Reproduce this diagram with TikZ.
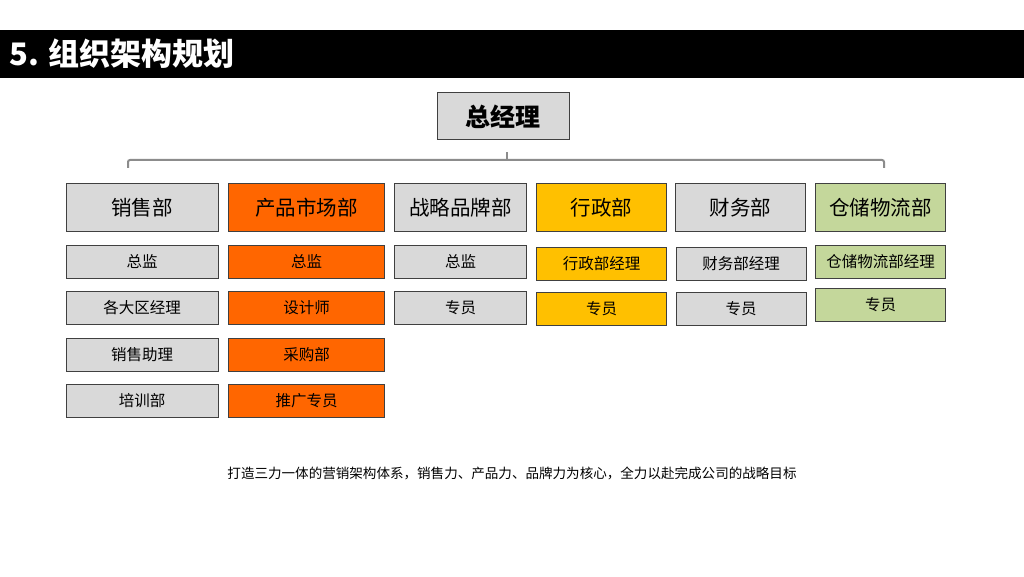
\documentclass[tikz,border=0pt]{standalone}
\usepackage{fontspec}
\setmainfont{Noto Sans CJK SC}
\definecolor{cgray}{HTML}{D9D9D9}
\definecolor{corange}{HTML}{FF6600}
\definecolor{cyellow}{HTML}{FFC000}
\definecolor{cgreen}{HTML}{C4D79B}
\definecolor{cborder}{HTML}{404040}
\definecolor{cline}{HTML}{8C8C8C}
\tikzset{
  cell/.style={draw=cborder, line width=1pt, inner sep=0pt, text=black},
  head/.style={cell, minimum height=48pt, font=\fontsize{20.5}{24}\selectfont},
  sub/.style={cell, minimum height=33pt, font=\fontsize{15.5}{18}\selectfont},
  gcell/.style={fill=cgray},
  ocell/.style={fill=corange},
  ycell/.style={fill=cyellow},
  ncell/.style={fill=cgreen},
  bracket/.style={draw=cline, line width=2pt, rounded corners=2pt}
}
\begin{document}
\begin{tikzpicture}[x=1pt,y=-1pt]
\useasboundingbox (0,0) rectangle (1024,577);
\fill[white] (0,0) rectangle (1024,577);
% title bar
\fill[black] (0,30) rectangle (1024,78);
\node[anchor=west, inner sep=0pt, text=white, font=\bfseries\fontsize{31}{34}\selectfont] (title) at (9.5,54) {5. 组织架构规划};
% top
\node[cell, gcell, minimum width=132pt, minimum height=47pt, font=\bfseries\fontsize{25}{28}\selectfont] (boss) at (503,116.5) {总经理};
% bracket
\coordinate (bl) at (128,168);
\coordinate (br) at (884,168);
\coordinate (bt) at (507,152);
\coordinate (bm) at (507,160);
\draw[bracket] (bl) -- (128,160) -- (884,160) -- (br);
\draw[bracket] (bm) -- (bt);
% row 1 headers
\node[head, gcell, minimum width=152pt] (h1) at (142,208) {销售部};
\node[head, ocell, minimum width=156pt] (h2) at (306.5,208) {产品市场部};
\node[head, gcell, minimum width=132pt] (h3) at (460.5,208) {战略品牌部};
\node[head, ycell, minimum width=130pt] (h4) at (601.5,208) {行政部};
\node[head, gcell, minimum width=130pt] (h5) at (740.5,208) {财务部};
\node[head, ncell, minimum width=130pt] (h6) at (880.5,208) {仓储物流部};
% column 1
\node[sub, gcell, minimum width=152pt] (a2) at (142,261.5) {总监};
\node[sub, gcell, minimum width=152pt] (a3) at (142,307.5) {各大区经理};
\node[sub, gcell, minimum width=152pt] (a4) at (142,354.5) {销售助理};
\node[sub, gcell, minimum width=152pt] (a5) at (142,400.5) {培训部};
% column 2
\node[sub, ocell, minimum width=156pt] (b2) at (306.5,261.5) {总监};
\node[sub, ocell, minimum width=156pt] (b3) at (306.5,307.5) {设计师};
\node[sub, ocell, minimum width=156pt] (b4) at (306.5,354.5) {采购部};
\node[sub, ocell, minimum width=156pt] (b5) at (306.5,400.5) {推广专员};
% column 3
\node[sub, gcell, minimum width=132pt] (c2) at (460.5,261.5) {总监};
\node[sub, gcell, minimum width=132pt] (c3) at (460.5,307.5) {专员};
% column 4
\node[sub, ycell, minimum width=130pt] (d2) at (601.5,263.5) {行政部经理};
\node[sub, ycell, minimum width=130pt] (d3) at (601.5,308.5) {专员};
% column 5
\node[sub, gcell, minimum width=130pt] (e2) at (741,263.5) {财务部经理};
\node[sub, gcell, minimum width=130pt] (e3) at (741,308.5) {专员};
% column 6
\node[sub, ncell, minimum width=130pt] (f2) at (880.5,261.5) {仓储物流部经理};
\node[sub, ncell, minimum width=130pt] (f3) at (880.5,305) {专员};
% footer
\node[inner sep=0pt, font=\fontsize{13.55}{16}\selectfont] (foot) at (512,473) {打造三力一体的营销架构体系，销售力、产品力、品牌力为核心，全力以赴完成公司的战略目标};
\end{tikzpicture}
\end{document}
